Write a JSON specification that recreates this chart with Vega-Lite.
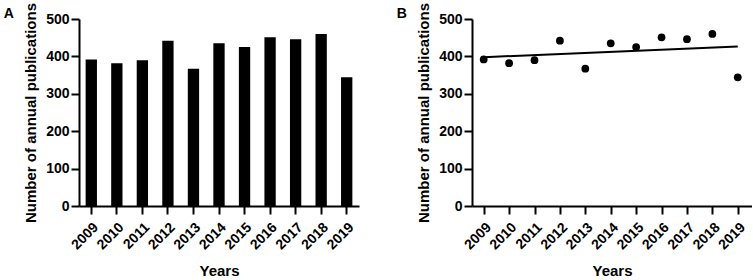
{
  "$schema": "https://vega.github.io/schema/vega-lite/v6.json",
  "padding": {"left": 3, "top": 2, "right": 0, "bottom": 0},
  "background": "white",
  "config": {
    "font": "Liberation Sans",
    "view": {"stroke": null},
    "axis": {
      "domainColor": "black", "domainWidth": 2,
      "tickColor": "black", "tickWidth": 2, "tickSize": 8,
      "labelFont": "Liberation Sans", "labelFontWeight": "bold", "labelFontSize": 14, "labelColor": "black", "labelPadding": 2, "labelOverlap": false,
      "titleFont": "Liberation Sans", "titleFontWeight": "bold", "titleFontSize": 15, "titleColor": "black",
      "grid": false
    },
    "axisX": {"labelPadding": 6, "titlePadding": 12},
    "title": {"font": "Liberation Sans", "fontSize": 14, "fontWeight": "bold", "anchor": "start", "frame": "bounds", "color": "black", "offset": -19, "dx": -20},
    "concat": {"spacing": 37}
  },
  "data": {"values": [
    {"year": 2009, "publications": 392},
    {"year": 2010, "publications": 382},
    {"year": 2011, "publications": 390},
    {"year": 2012, "publications": 442},
    {"year": 2013, "publications": 367},
    {"year": 2014, "publications": 435},
    {"year": 2015, "publications": 425},
    {"year": 2016, "publications": 451},
    {"year": 2017, "publications": 446},
    {"year": 2018, "publications": 460},
    {"year": 2019, "publications": 344}
  ]},
  "hconcat": [
    {
      "width": 280, "height": 187,
      "title": {"text": "A"},
      "mark": {"type": "bar", "color": "black"},
      "encoding": {
        "x": {"field": "year", "type": "ordinal", "scale": {"paddingInner": 0.557, "paddingOuter": 0.26},
              "axis": {"labelAngle": -45, "title": "Years"}},
        "y": {"field": "publications", "type": "quantitative", "scale": {"domain": [0, 500]},
              "axis": {"values": [0, 100, 200, 300, 400, 500], "title": "Number of annual publications", "titlePadding": 7}}
      }
    },
    {
      "width": 280, "height": 187,
      "title": {"text": "B"},
      "encoding": {
        "x": {"field": "year", "type": "quantitative", "scale": {"domain": [2008.54, 2019.56], "nice": false, "zero": false},
              "axis": {"values": [2009, 2010, 2011, 2012, 2013, 2014, 2015, 2016, 2017, 2018, 2019], "format": "d", "labelAngle": -45, "title": "Years"}},
        "y": {"field": "publications", "type": "quantitative", "scale": {"domain": [0, 500]},
              "axis": {"values": [0, 100, 200, 300, 400, 500], "title": "Number of annual publications", "titlePadding": 7}}
      },
      "layer": [
        {"mark": {"type": "point", "filled": true, "color": "black", "size": 60, "opacity": 1}},
        {"transform": [{"regression": "publications", "on": "year"}],
         "mark": {"type": "line", "color": "black", "strokeWidth": 2}}
      ]
    }
  ]
}
